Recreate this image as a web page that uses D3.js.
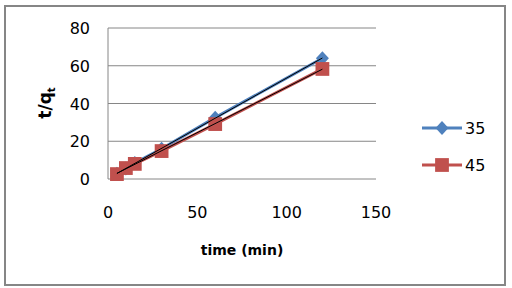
<!DOCTYPE html>
<html>
<head>
<meta charset="utf-8">
<script src="https://cdn.jsdelivr.net/npm/d3@7"></script>
<style>
  body { margin: 0; background: #fff; }
  text { font-family: "DejaVu Sans", sans-serif; }
</style>
</head>
<body>
<div class="vis-holder"></div>
<script>
const width = 512;
const height = 288;

// data
const times = [5, 10, 15, 30, 60, 120];
const series35 = [2.8, 5.6, 8.5, 16.0, 32.5, 64.0];
const series45 = [2.6, 5.8, 8.0, 14.8, 29.1, 58.3];
const seriesNames = ["35", "45"];
const seriesColors = ["#4F81BD", "#C0504D"];
const xTicks = [0, 50, 100, 150];
const yTicks = [0, 20, 40, 60, 80];

const svg = d3.select(".vis-holder").append("svg")
    .attr("width", width)
    .attr("height", height);

// outer chart border
svg.append("rect")
    .attr("x", 5).attr("y", 6)
    .attr("width", 500).attr("height", 279)
    .attr("fill", "none")
    .attr("stroke", "#868686")
    .attr("stroke-width", 2);

const x = d3.scaleLinear().domain([0, 150]).range([108, 376]);
const y = d3.scaleLinear().domain([0, 80]).range([179, 28]);

// gridlines
svg.append("g")
    .selectAll("line")
    .data(yTicks)
    .enter().append("line")
    .attr("x1", x(0)).attr("x2", x(150))
    .attr("y1", d => y(d)).attr("y2", d => y(d))
    .attr("stroke", "#868686")
    .attr("stroke-width", 1);

// y axis line
svg.append("line")
    .attr("x1", x(0)).attr("x2", x(0))
    .attr("y1", y(80)).attr("y2", y(0))
    .attr("stroke", "#868686");

// y tick labels
svg.append("g")
    .selectAll("text")
    .data(yTicks)
    .enter().append("text")
    .attr("x", 90)
    .attr("y", d => y(d) + 6)
    .attr("text-anchor", "end")
    .attr("font-size", 16)
    .attr("fill", "#000")
    .text(d => d);

// x tick labels (sit well below plot, like the original)
svg.append("g")
    .selectAll("text")
    .data(xTicks)
    .enter().append("text")
    .attr("x", d => x(d))
    .attr("y", 218)
    .attr("text-anchor", "middle")
    .attr("font-size", 16)
    .attr("fill", "#000")
    .text(d => d);

// axis titles
svg.append("text")
    .attr("x", 242).attr("y", 255)
    .attr("text-anchor", "middle")
    .attr("font-size", 14)
    .attr("font-weight", "bold")
    .text("time (min)");

const yTitle = svg.append("text")
    .attr("transform", "translate(51,103) rotate(-90)")
    .attr("text-anchor", "middle")
    .attr("font-size", 17)
    .attr("font-weight", "bold");
yTitle.append("tspan").text("t/q");
yTitle.append("tspan").attr("font-size", 10).attr("dy", 4).text("t");

const allSeries = [series35, series45];
const line = d3.line().x(d => x(d[0])).y(d => y(d[1]));
// excel-style diamond: as wide as it is tall
const diamond = "M0,-7L6.5,0L0,7L-6.5,0Z";
const square = d3.symbol().type(d3.symbolSquare).size(190);

allSeries.forEach(function(vals, i) {
    const pts = times.map((t, j) => [t, vals[j]]);
    svg.append("path")
        .attr("d", line(pts))
        .attr("fill", "none")
        .attr("stroke", seriesColors[i])
        .attr("stroke-width", 3);
    svg.append("g")
        .selectAll("path")
        .data(pts)
        .enter().append("path")
        .attr("transform", d => "translate(" + x(d[0]) + "," + y(d[1]) + ")")
        .attr("d", i === 0 ? diamond : square)
        .attr("fill", seriesColors[i]);
});

// linear trendlines (black) for each series
allSeries.forEach(function(vals) {
    const mx = d3.mean(times), my = d3.mean(vals);
    const slope = d3.sum(times, (t, j) => (t - mx) * (vals[j] - my)) /
                  d3.sum(times, t => (t - mx) * (t - mx));
    const b = my - slope * mx;
    const ends = [times[0], times[times.length - 1]].map(t => [t, b + slope * t]);
    svg.append("path")
        .attr("d", line(ends))
        .attr("fill", "none")
        .attr("stroke", "#000")
        .attr("stroke-width", 1);
});

// legend
seriesNames.forEach(function(name, i) {
    const ly = 128 + i * 37;
    const g = svg.append("g");
    g.append("line")
        .attr("x1", 422).attr("x2", 462)
        .attr("y1", ly).attr("y2", ly)
        .attr("stroke", seriesColors[i])
        .attr("stroke-width", 3);
    g.append("path")
        .attr("transform", "translate(442," + ly + ")")
        .attr("d", i === 0 ? diamond : square)
        .attr("fill", seriesColors[i]);
    g.append("text")
        .attr("x", 465).attr("y", ly + 6)
        .attr("font-size", 16)
        .text(name);
});
</script>
</body>
</html>
